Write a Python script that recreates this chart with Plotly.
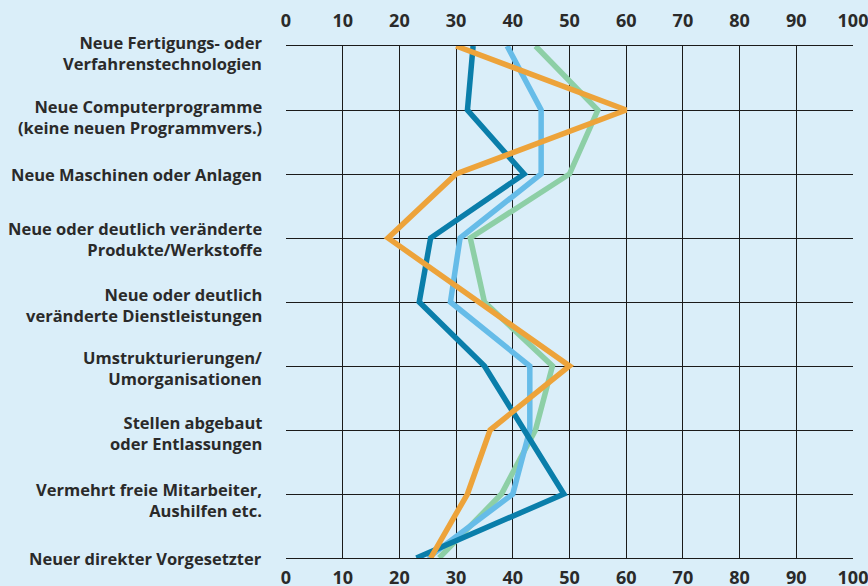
import plotly.graph_objects as go

categories = [
    "Neue Fertigungs- oder<br>Verfahrenstechnologien",
    "Neue Computerprogramme<br>(keine neuen Programmvers.)",
    "Neue Maschinen oder Anlagen",
    "Neue oder deutlich veränderte<br>Produkte/Werkstoffe",
    "Neue oder deutlich<br>veränderte Dienstleistungen",
    "Umstrukturierungen/<br>Umorganisationen",
    "Stellen abgebaut<br>oder Entlassungen",
    "Vermehrt freie Mitarbeiter,<br>Aushilfen etc.",
    "Neuer direkter Vorgesetzter",
]

dark_blue = [33, 32, 42, 25.5, 23.5, 35, 42, 49, 23]
light_blue = [39, 45, 45, 30.7, 29, 43, 43, 40, 25]
green = [44, 55, 50, 32.5, 35, 47, 44, 38, 27]
orange = [30, 60, 30, 18, 34, 50, 36, 32, 25.5]

x_ticks = list(range(0, 101, 10))

# the category labels in the original are not all exactly centred on their line
label_nudge = [-7, -7, 0, -1, -3, -2, -3, -6, 0]

series = [
    (green, "#8dcfa6"),
    (light_blue, "#66bce8"),
    (dark_blue, "#0a7eaa"),
    (orange, "#eda33a"),
]

ypos = list(range(len(categories)))

fig = go.Figure()
for vals, col in series:
    fig.add_trace(go.Scatter(x=vals, y=ypos, mode="lines",
                             line=dict(color=col, width=5.5),
                             showlegend=False, hoverinfo="skip"))

# dummy trace so the top axis gets drawn
fig.add_trace(go.Scatter(x=[0, 100], y=[0, 0], xaxis="x2", mode="lines",
                         line=dict(width=0), showlegend=False, hoverinfo="skip"))

bg = "#daeef9"
txt = "#2a2a2a"
tick_font = dict(family="Open Sans", size=18, color=txt, weight="bold")
label_font = dict(family="Open Sans", size=16.5, color=txt, weight="bold")

for i, lab in enumerate(categories):
    fig.add_annotation(x=0, xref="paper", xanchor="right", xshift=-22,
                       y=i, yref="y", yanchor="middle", yshift=label_nudge[i],
                       text=lab, align="right", showarrow=False,
                       font=label_font)

fig.update_layout(
    width=868, height=586,
    paper_bgcolor=bg, plot_bgcolor=bg,
    margin=dict(l=286, r=15, t=46, b=28),
    xaxis=dict(range=[0, 100], tickvals=x_ticks, showgrid=True,
               gridcolor="#1a1a1a", gridwidth=1.3, zeroline=False,
               showline=True, linecolor="#1a1a1a", linewidth=1.3, mirror=True,
               tickfont=tick_font, ticks="", ticklabelstandoff=3,
               automargin=False, ticklabeloverflow="allow"),
    xaxis2=dict(range=[0, 100], tickvals=x_ticks, overlaying="x", side="top",
                showgrid=False, zeroline=False, showline=False,
                tickfont=tick_font, ticks="", ticklabelstandoff=14,
                automargin=False, ticklabeloverflow="allow"),
    yaxis=dict(range=[8, 0], tickvals=ypos, showticklabels=False,
               showgrid=True, gridcolor="#1a1a1a", gridwidth=1.3,
               zeroline=False, showline=False, ticks="", automargin=False),
)

# drop the default page margin so the figure sits at the window's corner
fig.write_html("out.html",
               config={"displayModeBar": False},
               post_script="document.body.style.margin='0';"
                           "document.body.style.overflow='hidden';")
